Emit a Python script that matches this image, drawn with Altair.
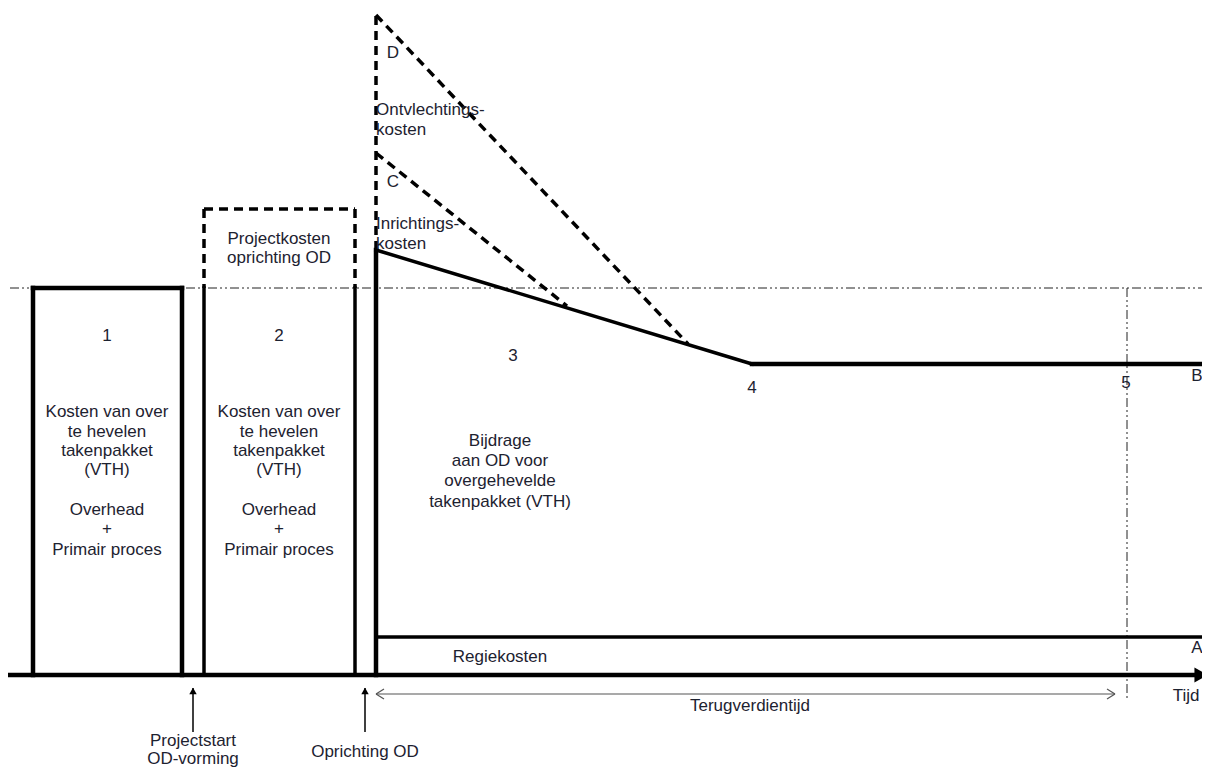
import altair as alt
import pandas as pd

# Diagram geometry: time (horizontal) and cost (vertical, 0 = time axis)
# Phases / moments on the time axis
t_axis = [8, 1210]
t_box1 = [33, 182]
t_box2 = [204, 355]
t_od = 376
t_4 = 752
t_5 = 1127
t_end = 1210
t_payback_end = 1115
t_projectstart = 193
t_oprichting = 365

# Cost levels
c_level_ref = 387      # dash-dot reference level (cost of boxes 1 and 2)
c_project_top = 466    # project costs establishment OD
c_start_solid = 425    # start of contribution line after OD
c_B = 311              # level B (steady state)
c_A = 38               # level A (regiekosten)
c_C = 522              # start of C (inrichtingskosten)
c_D = 660              # start of D (ontvlechtingskosten)
c_C_end = 369          # C meets contribution line
t_C_end = 567
c_D_end = 331          # D meets contribution line
t_D_end = 688

solid_thick = [
    (t_axis[0], 0, 1197, 0),
    (t_box1[0], 0, t_box1[0], c_level_ref),
    (t_box1[0], c_level_ref, t_box1[1], c_level_ref),
    (t_box1[1], c_level_ref, t_box1[1], 0),
    (t_od, 0, t_od, c_start_solid),
    (t_4, c_B, t_end, c_B),
]
solid_medium = [
    (t_box2[0], 0, t_box2[0], c_level_ref),
    (t_box2[1], 0, t_box2[1], c_level_ref),
    (t_od, c_start_solid, t_4, c_B),
    (t_od, c_A, t_end, c_A),
]
dashed = [
    (t_box2[0], c_project_top, t_box2[1], c_project_top),
    (t_box2[0], c_project_top, t_box2[0], c_level_ref),
    (t_box2[1], c_project_top, t_box2[1], c_level_ref),
    (t_od, c_start_solid, t_od, c_D),
    (t_od, c_C, t_C_end, c_C_end),
    (t_od, c_D, t_D_end, c_D_end),
]
dashdot = [
    (10, c_level_ref, t_end, c_level_ref),
    (t_5, c_level_ref, t_5, -25),
]
thin_black = [
    (t_projectstart, -13, t_projectstart, -57),
    (t_oprichting, -13, t_oprichting, -57),
]
grey = [
    (t_od, -19, t_payback_end, -19),
    (t_od, -19, t_od + 8, -14),
    (t_od, -19, t_od + 8, -24),
    (t_payback_end, -19, t_payback_end - 8, -14),
    (t_payback_end, -19, t_payback_end - 8, -24),
]

labels_center = [
    ("1", 107, 339), ("Kosten van over", 107, 263), ("te hevelen", 107, 243),
    ("takenpakket", 107, 224), ("(VTH)", 107, 205), ("Overhead", 107, 165),
    ("+", 107, 146), ("Primair proces", 107, 125),
    ("2", 279, 339), ("Kosten van over", 279, 263), ("te hevelen", 279, 243),
    ("takenpakket", 279, 224), ("(VTH)", 279, 205), ("Overhead", 279, 165),
    ("+", 279, 146), ("Primair proces", 279, 125),
    ("Projectkosten", 279, 436), ("oprichting OD", 279, 417),
    ("D", 393, 622), ("C", 393, 493),
    ("3", 513, 319), ("4", 752, 287), ("5", 1126, 292),
    ("B", 1197, 299), ("A", 1197, 27),
    ("Bijdrage", 500, 234), ("aan OD voor", 500, 214),
    ("overgehevelde", 500, 194), ("takenpakket (VTH)", 500, 173),
    ("Regiekosten", 500, 18),
    ("Tijd", 1186, -21), ("Terugverdientijd", 750, -31),
    ("Projectstart", 193, -66), ("OD-vorming", 193, -84),
    ("Oprichting OD", 365, -77),
]
labels_left = [
    ("Ontvlechtings-", 376, 565), ("kosten", 376, 545),
    ("Inrichtings-", 376, 451), ("kosten", 376, 431),
]
arrow_heads = [
    (1201, 0, "triangle-right", 230),
    (t_projectstart, -16, "triangle-up", 55),
    (t_oprichting, -16, "triangle-up", 55),
]

xs = alt.Scale(domain=[8, 1202], nice=False, zero=False)
ys = alt.Scale(domain=[-94, 667], nice=False, zero=False)

FONT = "Liberation Sans"
TXT = "#1d2230"


def seg_layer(rows, width, color="black", dash=None, cap="square"):
    df = pd.DataFrame(rows, columns=["x", "y", "x2", "y2"])
    kw = dict(strokeWidth=width, color=color, strokeCap=cap, clip=False)
    if dash is not None:
        kw["strokeDash"] = dash
    return alt.Chart(df).mark_rule(**kw).encode(
        x=alt.X("x:Q", scale=xs, axis=None),
        y=alt.Y("y:Q", scale=ys, axis=None),
        x2="x2:Q",
        y2="y2:Q",
    )


def text_layer(rows, align):
    df = pd.DataFrame(rows, columns=["text", "x", "y"])
    return alt.Chart(df).mark_text(
        align=align, baseline="middle", font=FONT, fontSize=17, color=TXT
    ).encode(
        x=alt.X("x:Q", scale=xs, axis=None),
        y=alt.Y("y:Q", scale=ys, axis=None),
        text="text:N",
    )


heads_df = pd.DataFrame(arrow_heads, columns=["x", "y", "shape", "size"])
heads = alt.Chart(heads_df).mark_point(filled=True, color="black", opacity=1, strokeWidth=0).encode(
    x=alt.X("x:Q", scale=xs, axis=None),
    y=alt.Y("y:Q", scale=ys, axis=None),
    shape=alt.Shape("shape:N", scale=None, legend=None),
    size=alt.Size("size:Q", scale=None, legend=None),
)

chart = alt.layer(
    seg_layer(dashdot, 1, color="#222", dash=[9, 3, 2, 3, 2, 3], cap="butt"),
    seg_layer(solid_thick, 4.5),
    seg_layer(solid_medium, 3.5),
    seg_layer(dashed, 3.5, dash=[9, 6], cap="butt"),
    seg_layer(thin_black, 1.5, cap="butt"),
    seg_layer(grey, 1.2, color="#555", cap="butt"),
    heads,
    text_layer(labels_center, "center"),
    text_layer(labels_left, "left"),
).properties(
    width=1194, height=761, padding=0, autosize=alt.AutoSizeParams(type="none")
).configure_view(stroke=None)

chart.save("out.html", embed_options={"renderer": "svg", "actions": False})
